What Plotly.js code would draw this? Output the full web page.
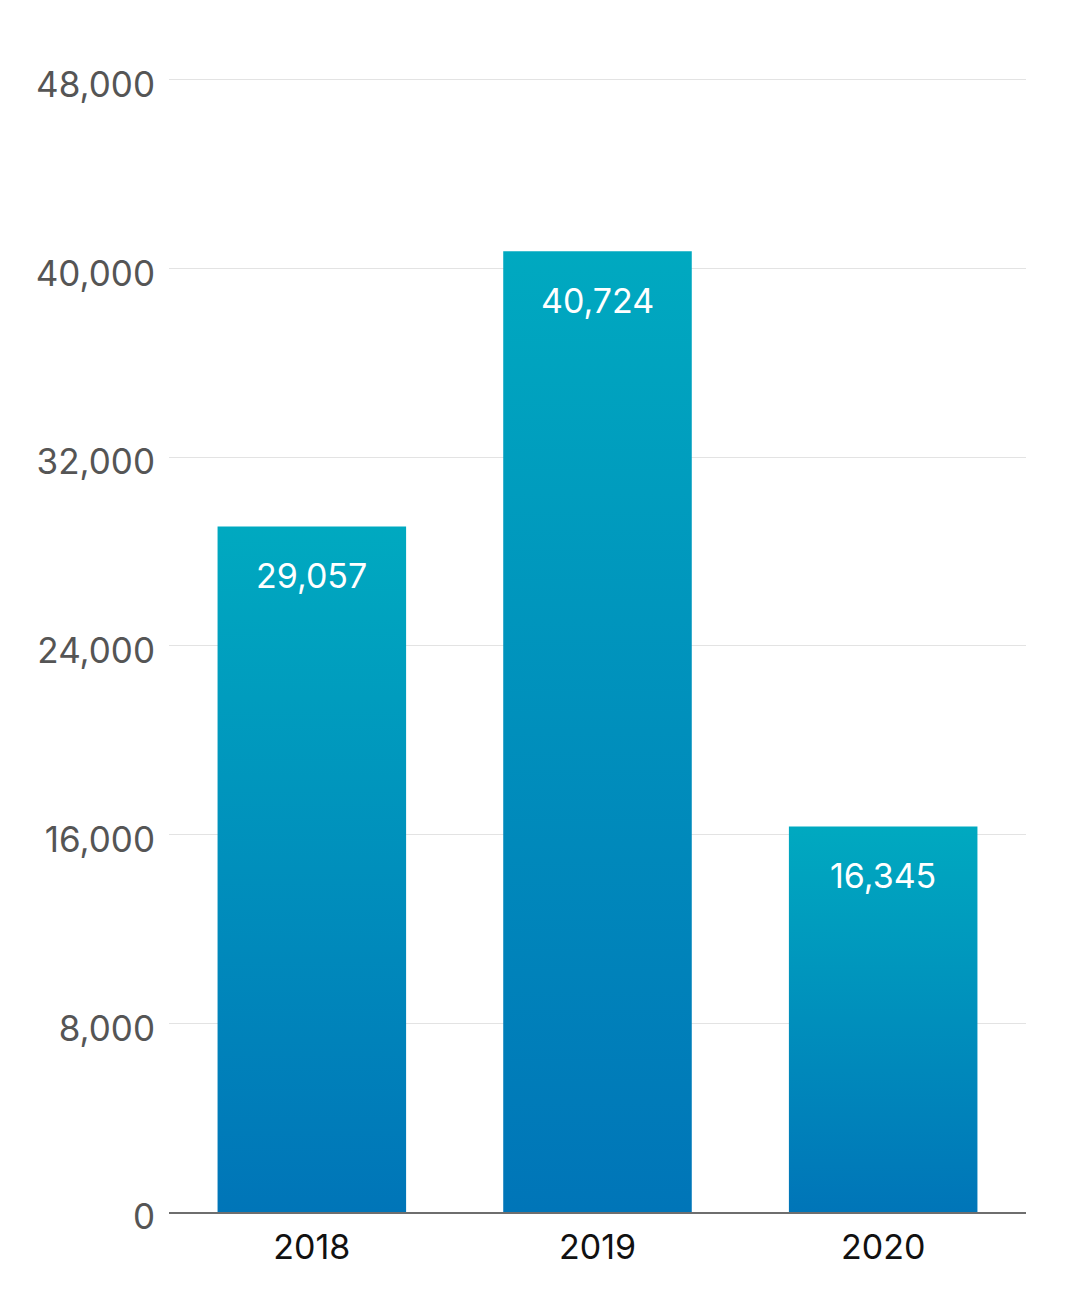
<!DOCTYPE html>
<html>
<head>
<meta charset="utf-8">
<script src="https://cdn.plot.ly/plotly-3.0.1.min.js"></script>
<style>
  body { margin: 0; background: #fff; }
  #chart { width: 1072px; height: 1304px; }
</style>
</head>
<body>
<div id="chart"></div>
<script>
// Dữ liệu biểu đồ
var years = ['2018', '2019', '2020'];
var values = [29057, 40724, 16345];
var yTicks = [0, 8000, 16000, 24000, 32000, 40000, 48000];
var yTickText = ['0', '8,000', '16,000', '24,000', '32,000', '40,000', '48,000'];

var FONT = 'Inter, Lato, sans-serif';

var trace = {
    type: 'bar',
    x: years,
    y: values,
    width: 0.66,
    marker: { color: '#0090bd', line: { width: 0 } },
    hoverinfo: 'none'
};

// Nhãn giá trị nằm trong cột, gần đỉnh (x theo chỉ số hạng mục)
var labels = values.map(function (v, i) {
    return {
        x: i, y: v,
        text: v.toLocaleString('en-US'),
        showarrow: false,
        yanchor: 'middle',
        yshift: -49,
        font: { family: FONT, size: 34, color: '#ffffff' }
    };
});

var layout = {
    width: 1072,
    height: 1304,
    // trục y hơi cao hơn 48,000 để vẫn vẽ đường lưới trên cùng
    margin: { l: 169, r: 46, t: 75, b: 92 },
    paper_bgcolor: '#ffffff',
    plot_bgcolor: '#ffffff',
    showlegend: false,
    xaxis: {
        type: 'category',
        range: [-0.5, 2.5],
        ticks: 'outside',
        ticklen: 5,
        tickcolor: 'rgba(0,0,0,0)',
        tickfont: { family: FONT, size: 34, color: '#111111' },
        showline: true,
        linecolor: '#6e6e6e',
        linewidth: 1.5,
        showgrid: false,
        zeroline: false
    },
    yaxis: {
        range: [0, 48200],
        tickvals: yTicks,
        ticktext: yTickText,
        ticks: 'outside',
        ticklen: 6,
        tickcolor: 'rgba(0,0,0,0)',
        ticklabelshift: 5,
        tickfont: { family: FONT, size: 35, color: '#555555' },
        showgrid: true,
        gridcolor: '#e3e3e3',
        gridwidth: 1,
        zeroline: false,
        showline: false
    },
    annotations: labels
};

Plotly.newPlot('chart', [trace], layout, { staticPlot: true, displayModeBar: false }).then(function () {
    // Tô màu gradient cho các cột (xanh ngọc ở trên, xanh dương ở dưới)
    var svg = document.querySelector('#chart .main-svg');
    var ns = 'http://www.w3.org/2000/svg';
    var defs = document.createElementNS(ns, 'defs');
    var grad = document.createElementNS(ns, 'linearGradient');
    grad.setAttribute('id', 'barGrad');
    grad.setAttribute('x1', '0'); grad.setAttribute('y1', '0');
    grad.setAttribute('x2', '0'); grad.setAttribute('y2', '1');
    [['0', '#00a9c0'], ['1', '#0075b8']].forEach(function (s) {
        var stop = document.createElementNS(ns, 'stop');
        stop.setAttribute('offset', s[0]);
        stop.setAttribute('stop-color', s[1]);
        grad.appendChild(stop);
    });
    defs.appendChild(grad);
    svg.insertBefore(defs, svg.firstChild);
    document.querySelectorAll('#chart .bars path').forEach(function (p) {
        p.style.fill = 'url(#barGrad)';
    });
});
</script>
</body>
</html>
